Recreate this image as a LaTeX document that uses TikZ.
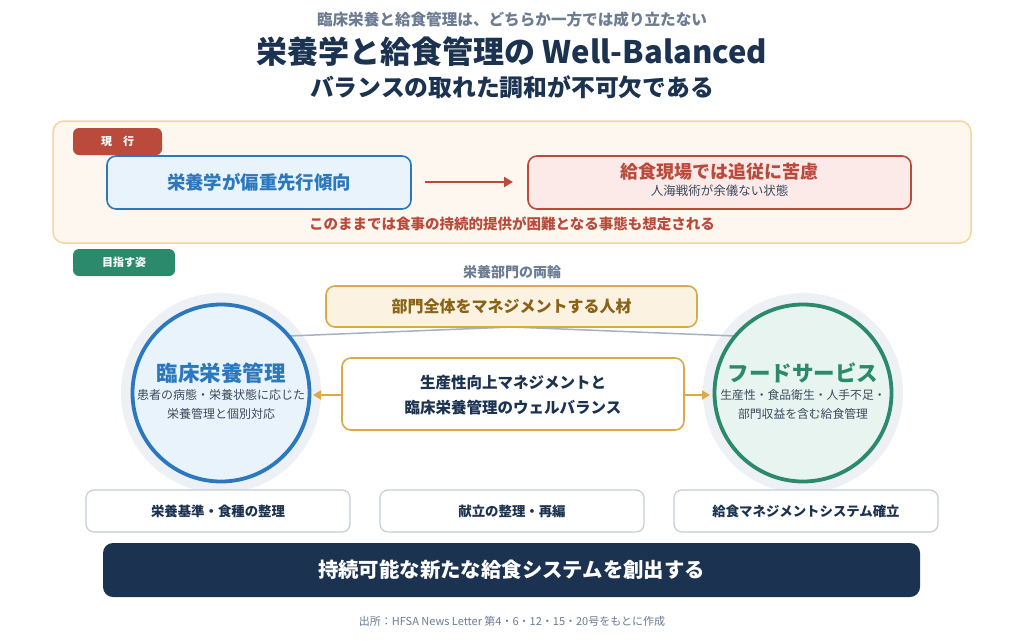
\documentclass[tikz,border=0pt]{standalone}
\usepackage{fontspec}
\setmainfont{Noto Sans CJK JP}
\usetikzlibrary{arrows.meta}
\definecolor{navy}{HTML}{1B3250}
\definecolor{subgray}{HTML}{6B7C93}
\definecolor{redc}{HTML}{B94A3C}
\definecolor{bluec}{HTML}{2B78BE}
\definecolor{greenc}{HTML}{2A8A6B}
\definecolor{goldc}{HTML}{DBA94A}
\definecolor{brownc}{HTML}{8A6318}
\definecolor{creamc}{HTML}{FEF7EF}
\definecolor{creamb}{HTML}{F2D59E}
\definecolor{lblue}{HTML}{E8F3FB}
\definecolor{lred}{HTML}{FBEAE7}
\definecolor{lgold}{HTML}{FBF2E1}
\definecolor{lgreen}{HTML}{E7F4F0}
\definecolor{halo}{HTML}{EDF1F5}
\definecolor{linegray}{HTML}{A3B1C2}
\definecolor{boxgray}{HTML}{C3CDD8}
\definecolor{textdark}{HTML}{3A4A5C}
\newcommand{\fs}[1]{\fontsize{#1}{#1}\selectfont}
\tikzset{
  every node/.style={inner sep=0pt, outer sep=0pt},
  badge/.style={rounded corners=6pt, text=white, font=\bfseries\fs{11}},
  rbox/.style={draw, rounded corners=9pt, line width=1.6pt},
  lowbox/.style={draw=boxgray, fill=white, rounded corners=8pt, line width=1.2pt, minimum width=264pt, minimum height=42pt, font=\bfseries\fs{13.4}, text=navy},
  ringc/.style={circle, minimum size=177pt, line width=3.8pt},
  haloc/.style={circle, fill=halo, minimum size=200pt},
  garrow/.style={goldc, line width=2.2pt, -{Triangle[length=8pt,width=9pt]}},
}
\begin{document}
\begin{tikzpicture}[x=1pt,y=-1pt]
\useasboundingbox (0,0) rectangle (1024,640);
\fill[white] (0,0) rectangle (1024,640);
% titles
\node[font=\bfseries\fs{15.6}, text=subgray] (sub) at (512,20) {臨床栄養と給食管理は、どちらか一方では成り立たない};
\node[font=\bfseries\fs{31}, text=navy] (title) at (512,52) {栄養学と給食管理の Well-Balanced};
\node[font=\bfseries\fs{23.8}, text=navy] (title2) at (512,87) {バランスの取れた調和が不可欠である};
% top panel
\node[draw=creamb, fill=creamc, rounded corners=11pt, line width=1.5pt, minimum width=918pt, minimum height=122pt] (panel) at (512,182) {};
\node[badge, fill=redc, minimum width=89pt, minimum height=27pt] (now) at (117.5,141.5) {現\hspace{1em}行};
\node[rbox, draw=bluec, fill=lblue, minimum width=304pt, minimum height=53pt, font=\bfseries\fs{18.4}, text=bluec] (lbox) at (259,182.5) {栄養学が偏重先行傾向};
\node[rbox, draw=redc, fill=lred, minimum width=383pt, minimum height=53pt] (rbox) at (719.5,182.5) {};
\node[font=\bfseries\fs{18}, text=redc] (rt) at (719.5,172) {給食現場では追従に苦慮};
\node[font=\fs{12.5}, text=textdark] (rs) at (719.5,191) {人海戦術が余儀ない状態};
\coordinate (aS) at (425,182);
\coordinate (aE) at (513,182);
\draw[redc, line width=2.8pt, -{Triangle[length=9pt,width=10pt]}] (aS) -- (aE);
\node[font=\bfseries\fs{14.5}, text=redc] (warn) at (512,224) {このままでは食事の持続的提供が困難となる事態も想定される};
% goal
\node[badge, fill=greenc, minimum width=102pt, minimum height=27pt] (goal) at (124,262.5) {目指す姿};
\node[font=\bfseries\fs{14}, text=subgray] (wheels) at (512,272) {栄養部門の両輪};
% circles
\node[haloc] (lhalo) at (221,393) {};
\node[haloc] (rhalo) at (803,393) {};
\coordinate (lA) at (289,336);
\coordinate (mA) at (512,327);
\coordinate (rA) at (735,336);
\draw[linegray, line width=1.5pt] (lA) -- (mA) -- (rA);
\node[rbox, draw=goldc, fill=lgold, minimum width=371pt, minimum height=41pt, font=\bfseries\fs{16}, text=brownc] (talent) at (511.5,306.5) {部門全体をマネジメントする人材};
\node[ringc, draw=bluec, fill=lblue] (lc) at (221,393) {};
\node[ringc, draw=greenc, fill=lgreen] (rc) at (803,393) {};
\node[font=\bfseries\fs{21.5}, text=bluec] (lct) at (221,373) {臨床栄養管理};
\node[font=\fs{12}, text=textdark] (lcs1) at (221,395) {患者の病態・栄養状態に応じた};
\node[font=\fs{12}, text=textdark] (lcs2) at (221,414) {栄養管理と個別対応};
\node[font=\bfseries\fs{21.5}, text=greenc] (rct) at (803,373) {フードサービス};
\node[font=\fs{11.8}, text=textdark] (rcs1) at (803,395) {生産性・食品衛生・人手不足・};
\node[font=\fs{11.8}, text=textdark] (rcs2) at (803,414) {部門収益を含む給食管理};
% middle box
\node[rbox, draw=goldc, fill=white, minimum width=342pt, minimum height=72pt] (mid) at (513,394) {};
\node[font=\bfseries\fs{15.5}, text=navy] (m1) at (513,383) {生産性向上マネジメントと};
\node[font=\bfseries\fs{15.5}, text=navy] (m2) at (513,408) {臨床栄養管理のウェルバランス};
\coordinate (lT) at (313,395);
\coordinate (rT) at (710,395);
\draw[garrow] (mid.west |- lT) -- (lT);
\draw[garrow] (mid.east |- rT) -- (rT);
% low boxes
\node[lowbox] (b1) at (218,511) {栄養基準・食種の整理};
\node[lowbox] (b2) at (512,511) {献立の整理・再編};
\node[lowbox] (b3) at (806,511) {給食マネジメントシステム確立};
% bar
\node[fill=navy, rounded corners=10pt, minimum width=817pt, minimum height=54pt, font=\bfseries\fs{20.4}, text=white] (bar) at (511.5,570) {持続可能な新たな給食システムを創出する};
\node[font=\fs{11}, text=subgray] (src) at (512,621) {出所：HFSA News Letter 第4・6・12・15・20号をもとに作成};
\end{tikzpicture}
\end{document}
